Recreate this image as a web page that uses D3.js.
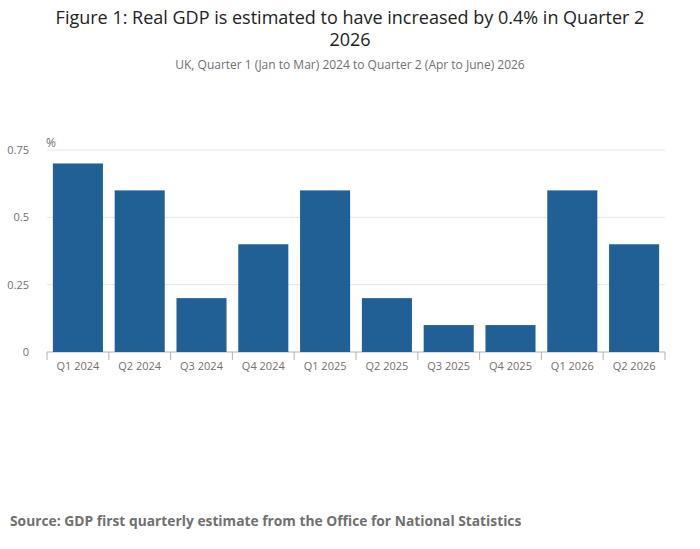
<!DOCTYPE html>
<html><head><meta charset="utf-8">
<script src="https://cdn.jsdelivr.net/npm/d3@7"></script>
<style>body{margin:0;background:#fff;font-family:"Open Sans",sans-serif;}</style>
</head><body><div id="chart"></div>
<script>
const quarters = ["Q1 2024","Q2 2024","Q3 2024","Q4 2024","Q1 2025","Q2 2025","Q3 2025","Q4 2025","Q1 2026","Q2 2026"];
const growth = [0.7,0.6,0.2,0.4,0.6,0.2,0.1,0.1,0.6,0.4];
const yTicks = [0,0.25,0.5,0.75];

const width = 700, height = 549;
const margin = {left: 47, right: 35, top: 150, bottom: 197};

const svg = d3.select("#chart").append("svg").attr("width", width).attr("height", height);

svg.append("text").attr("x", 350).attr("y", 24).attr("text-anchor","middle")
  .style("font-size","18px").attr("fill","#222").text("Figure 1: Real GDP is estimated to have increased by 0.4% in Quarter 2");
svg.append("text").attr("x", 350).attr("y", 46).attr("text-anchor","middle")
  .style("font-size","18px").attr("fill","#222").text("2026");
svg.append("text").attr("x", 350).attr("y", 69).attr("text-anchor","middle")
  .style("font-size","12px").attr("fill","#707070").text("UK, Quarter 1 (Jan to Mar) 2024 to Quarter 2 (Apr to June) 2026");

const x = d3.scaleBand().domain(quarters).range([margin.left, width - margin.right]).paddingInner(0.19).paddingOuter(0.095);
const y = d3.scaleLinear().domain([0,0.75]).range([height - margin.bottom, margin.top]);

// gridlines
svg.append("g").selectAll("line").data(yTicks).enter().append("line")
  .attr("x1", margin.left).attr("x2", width - margin.right)
  .attr("y1", d => y(d)).attr("y2", d => y(d))
  .attr("stroke", d => d === 0 ? "#b3b3b3" : "#e6e6e6");

const yAxis = svg.append("g").attr("transform", `translate(${margin.left - 15},0)`)
  .call(d3.axisLeft(y).tickValues(yTicks).tickSize(0).tickFormat(d => d === 0 ? "0" : String(d)));
yAxis.select(".domain").remove();
yAxis.selectAll("text").style("font-size","11px").attr("fill","#707070").style("font-family","Open Sans");

svg.append("text").attr("x", 46).attr("y", 147).style("font-size","12px").attr("fill","#707070").text("%");

svg.selectAll("rect.bar").data(growth).enter().append("rect").attr("class","bar")
  .attr("x", (d,i) => x(quarters[i])).attr("width", x.bandwidth())
  .attr("y", d => y(d)).attr("height", d => y(0) - y(d)).attr("fill","#206095");

const xAxis = svg.append("g").attr("transform", `translate(0,${y(0)})`)
  .call(d3.axisBottom(x).tickSize(0).tickPadding(10));
xAxis.select(".domain").remove();
xAxis.selectAll("text").style("font-size","11px").attr("fill","#707070").style("font-family","Open Sans");
// tick separators between bands
svg.append("g").selectAll("line").data(d3.range(quarters.length + 1)).enter().append("line")
  .attr("x1", i => margin.left + i * (width - margin.left - margin.right) / quarters.length)
  .attr("x2", i => margin.left + i * (width - margin.left - margin.right) / quarters.length)
  .attr("y1", y(0)).attr("y2", y(0) + 8).attr("stroke","#b3b3b3");

svg.append("text").attr("x", 10).attr("y", 526).style("font-size","13.8px").style("font-weight","bold")
  .attr("fill","#707070").text("Source: GDP first quarterly estimate from the Office for National Statistics");
</script></body></html>
